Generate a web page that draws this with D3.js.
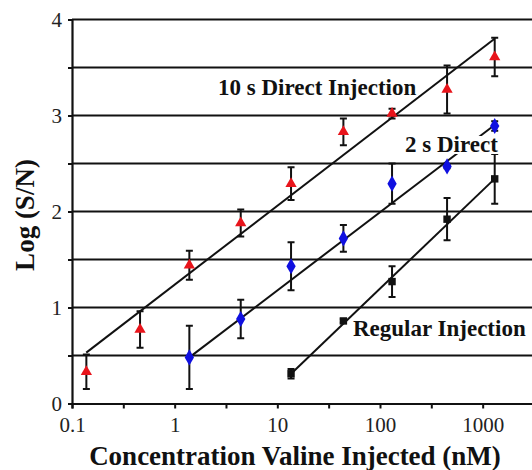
<!DOCTYPE html>
<html>
<head>
<meta charset="utf-8">
<script src="https://cdnjs.cloudflare.com/ajax/libs/d3/7.8.5/d3.min.js"></script>
<style>
  body { margin: 0; background: #fff; }
  text { font-family: "Liberation Serif", "Times New Roman", serif; }
</style>
</head>
<body>
<script>
// concentrations (nM) shared by all series
var conc = [0.138, 0.46, 1.39, 4.4, 13.6, 44, 131, 450, 1310]

// 10 s direct injection (red triangles)
var directTen = [0.33, 0.77, 1.44, 1.88, 2.29, 2.83, 3.02, 3.27, 3.61]
var directTenErr = [0.18, 0.19, 0.15, 0.14, 0.17, 0.14, 0.05, 0.25, 0.2]

// 2 s direct (blue diamonds), starts at conc[2]
var directTwo = [0.48, 0.88, 1.43, 1.72, 2.29, 2.47, 2.89]
var directTwoErr = [0.33, 0.2, 0.25, 0.14, 0.21, 0.02, 0.05]

// regular injection (black squares), starts at conc[4]
var regular = [0.31, 0.86, 1.27, 1.92, 2.34]
var regularErr = [0.05, 0.02, 0.16, 0.22, 0.26]

// linear fits: log(S/N) = a + b * log10(conc)
var fitIntercept = [1.238, 0.364, -0.851]
var fitSlope = [0.822, 0.814, 1.024]
var fitFrom = [-0.861, 0.143, 1.134]   // log10 conc where fit starts / ends
var fitTo = [3.116, 3.116, 3.116]

var yTicks = [0, 0.5, 1, 1.5, 2, 2.5, 3, 3.5, 4]
var xTicks = [0.1, 0.316, 1, 3.16, 10, 31.6, 100, 316, 1000, 3162]
var xLabels = [0.1, 1, 10, 100, 1000]

var width = 532
var height = 470

var svg = d3.select('body')
  .append('svg')
  .attr('width', width)
  .attr('height', height)

var x = d3.scaleLog()
  .domain([0.1, Math.pow(10, 3.5)])
  .range([72, 534])

var y = d3.scaleLinear()
  .domain([0, 4])
  .range([403.5, 19.5])

// gridlines
svg.append('g')
  .selectAll('line')
  .data(yTicks.slice(1))
  .enter()
  .append('line')
  .attr('x1', 72)
  .attr('x2', width)
  .attr('y1', d => y(d))
  .attr('y2', d => y(d))
  .attr('stroke', '#111')
  .attr('stroke-width', 2.2)

// y axis
var yAxis = svg.append('g')
  .attr('transform', 'translate(72,0)')
  .call(d3.axisLeft(y).tickValues(yTicks).tickSize(4)
    .tickFormat(d => d % 1 === 0 ? d : ''))
yAxis.select('.domain').attr('stroke', '#111').attr('stroke-width', 2.2)
yAxis.selectAll('.tick line').attr('stroke', '#111').attr('stroke-width', 2)
yAxis.selectAll('text')
  .attr('font-family', '"Liberation Serif", serif')
  .attr('font-size', 21)
  .attr('fill', '#222')
  .attr('x', -10)

// x axis
var xAxis = svg.append('g')
  .attr('transform', 'translate(0,' + y(0) + ')')
  .call(d3.axisBottom(x).tickValues(xTicks).tickSize(5)
    .tickFormat(d => xLabels.indexOf(d) >= 0 ? d : ''))
xAxis.select('.domain').attr('stroke', '#111').attr('stroke-width', 2.2)
xAxis.selectAll('.tick line').attr('stroke', '#111').attr('stroke-width', 2)
xAxis.selectAll('text')
  .attr('font-family', '"Liberation Serif", serif')
  .attr('font-size', 21)
  .attr('fill', '#222')
  .attr('y', 14)

// fit lines
for (var k = 0; k < 3; k++) {
  var a = fitIntercept[k], b = fitSlope[k]
  svg.append('line')
    .attr('x1', x(Math.pow(10, fitFrom[k])))
    .attr('y1', y(a + b * fitFrom[k]))
    .attr('x2', x(Math.pow(10, fitTo[k])))
    .attr('y2', y(a + b * fitTo[k]))
    .attr('stroke', '#111')
    .attr('stroke-width', 2)
}

function series(vals, errs, offset, color, symbol, size) {
  var pts = vals.map((v, i) => ({ c: conc[i + offset], v: v, e: errs[i] }))
  var g = svg.append('g')
  g.selectAll('.bar')
    .data(pts)
    .enter()
    .append('path')
    .attr('d', d => {
      var cx = x(d.c), t = y(d.v + d.e), bt = y(d.v - d.e)
      return 'M' + (cx - 3.5) + ',' + t + 'H' + (cx + 3.5) +
        'M' + cx + ',' + t + 'V' + bt +
        'M' + (cx - 3.5) + ',' + bt + 'H' + (cx + 3.5)
    })
    .attr('stroke', '#111')
    .attr('stroke-width', 2)
    .attr('fill', 'none')
  g.selectAll('.pt')
    .data(pts)
    .enter()
    .append('path')
    .attr('transform', d => 'translate(' + x(d.c) + ',' + y(d.v) + ')')
    .attr('d', d3.symbol().type(symbol).size(size))
    .attr('fill', color)
}

series(directTen, directTenErr, 0, '#e8141b', d3.symbolTriangle, 55)
series(directTwo, directTwoErr, 2, '#1010e0', d3.symbolDiamond, 75)
series(regular, regularErr, 4, '#111', d3.symbolSquare, 55)

// series labels with white boxes
var notes = [
  { t: '10 s Direct Injection', x: 218, y: 95 },
  { t: '2 s Direct', x: 405, y: 152 },
  { t: 'Regular Injection', x: 353, y: 336 }
]
notes.forEach(function(n) {
  var g = svg.append('g')
  var box = g.append('rect').attr('fill', '#fff')
  var txt = g.append('text')
    .attr('x', n.x)
    .attr('y', n.y)
    .attr('font-size', 23)
    .attr('font-weight', 'bold')
    .attr('fill', '#111')
    .text(n.t)
  var bb = txt.node().getBBox()
  box.attr('x', bb.x - 1)
    .attr('y', bb.y + 4)
    .attr('width', bb.width + 2)
    .attr('height', bb.height - 7)
})

// axis titles
svg.append('text')
  .attr('x', 295)
  .attr('y', 465)
  .attr('text-anchor', 'middle')
  .attr('font-size', 27)
  .attr('font-weight', 'bold')
  .attr('fill', '#111')
  .text('Concentration Valine Injected (nM)')

svg.append('text')
  .attr('transform', 'translate(34,215) rotate(-90)')
  .attr('text-anchor', 'middle')
  .attr('font-size', 27)
  .attr('font-weight', 'bold')
  .attr('fill', '#111')
  .text('Log (S/N)')
</script>
</body>
</html>
